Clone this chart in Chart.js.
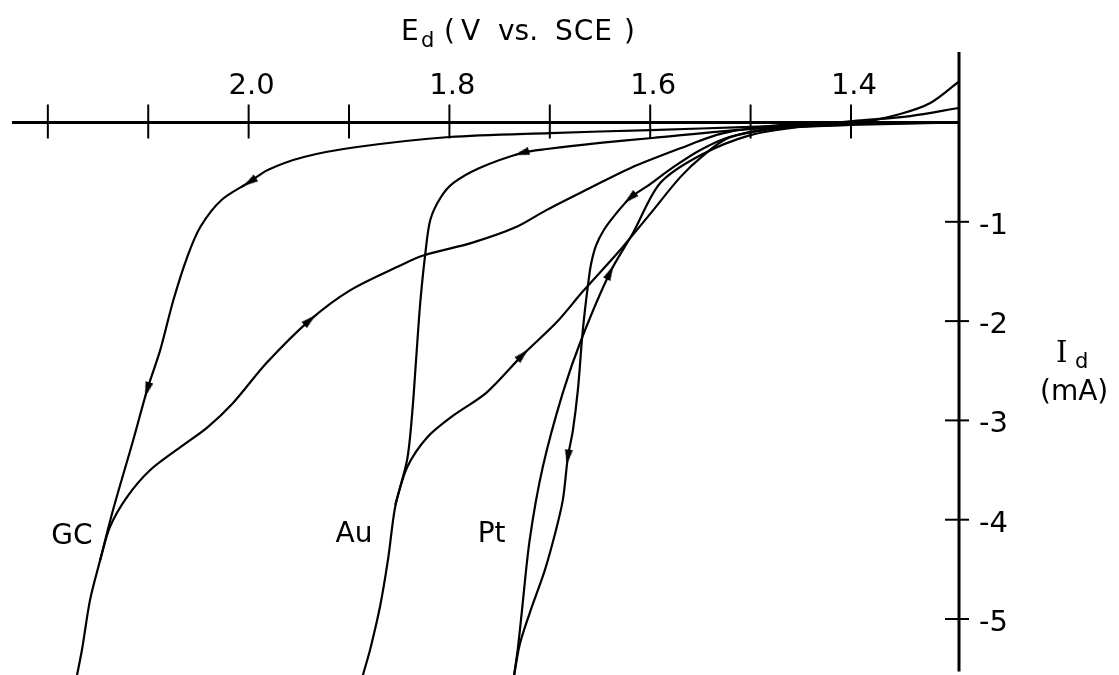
<!DOCTYPE html>
<html>
<head>
<meta charset="utf-8">
<title>Ed vs Id</title>
<script src="https://cdn.jsdelivr.net/npm/chart.js@4.4.1/dist/chart.umd.min.js"></script>
<style>
  html, body { margin: 0; padding: 0; background: #fff; }
  #wrap { width: 1119px; height: 675px; position: relative; }
</style>
</head>
<body>
<div id="wrap"><canvas id="cv" width="1119" height="675"></canvas></div>
<script>
// axis ticks (E_d in V vs. SCE, I_d in mA)
const xTicks = [2.2, 2.1, 2.0, 1.9, 1.8, 1.7, 1.6, 1.5, 1.4];
const xLabelled = [2.0, 1.8, 1.6, 1.4];
const yTicks = [-1, -2, -3, -4, -5];
const yTickLabels = ['-1', '-2', '-3', '-4', '-5'];

// glassy carbon
const gcFwdE = [1.293, 1.40, 1.50, 1.60, 1.70, 1.80, 1.892, 1.945, 1.981, 1.999, 2.027, 2.048, 2.061, 2.075, 2.088, 2.101, 2.115, 2.135, 2.148, 2.158, 2.166, 2.174];
const gcFwdI = [0, -0.015, -0.045, -0.076, -0.106, -0.146, -0.247, -0.347, -0.478, -0.599, -0.78, -1.05, -1.35, -1.79, -2.29, -2.69, -3.20, -3.90, -4.41, -4.81, -5.31, -5.72];
const gcRevE = [2.148, 2.138, 2.121, 2.098, 2.068, 2.041, 2.016, 1.982, 1.939, 1.899, 1.849, 1.826, 1.777, 1.733, 1.703, 1.66, 1.62, 1.57, 1.528, 1.471, 1.401, 1.293];
const gcRevI = [-4.41, -4.07, -3.77, -3.50, -3.27, -3.07, -2.83, -2.42, -1.99, -1.69, -1.44, -1.34, -1.21, -1.05, -0.88, -0.66, -0.46, -0.26, -0.11, -0.025, 0, 0];

// gold
const auFwdE = [1.293, 1.401, 1.502, 1.598, 1.650, 1.703, 1.728, 1.770, 1.796, 1.809, 1.819, 1.824, 1.829, 1.833, 1.837, 1.842, 1.854, 1.861, 1.869, 1.879, 1.886, 1.891];
const auFwdI = [0, -0.025, -0.066, -0.156, -0.206, -0.267, -0.307, -0.458, -0.609, -0.76, -0.98, -1.32, -1.81, -2.36, -2.92, -3.39, -3.87, -4.39, -4.87, -5.31, -5.56, -5.77];
const auRevE = [1.854, 1.842, 1.822, 1.796, 1.763, 1.727, 1.693, 1.667, 1.633, 1.600, 1.570, 1.547, 1.521, 1.471, 1.398, 1.341, 1.293];
const auRevI = [-3.85, -3.47, -3.17, -2.95, -2.72, -2.34, -2.01, -1.70, -1.32, -0.92, -0.55, -0.33, -0.15, -0.055, 0.015, 0.065, 0.146];

// platinum
const ptFwdE = [1.293, 1.401, 1.471, 1.521, 1.550, 1.577, 1.600, 1.620, 1.635, 1.646, 1.654, 1.659, 1.662, 1.665, 1.668, 1.672, 1.677, 1.682, 1.687, 1.695, 1.705, 1.720, 1.730, 1.737];
const ptFwdI = [0, -0.005, -0.045, -0.146, -0.277, -0.45, -0.62, -0.76, -0.93, -1.08, -1.24, -1.43, -1.64, -1.89, -2.19, -2.69, -3.10, -3.37, -3.80, -4.15, -4.51, -4.94, -5.26, -5.66];
const ptRevE = [1.737, 1.732, 1.728, 1.720, 1.707, 1.687, 1.668, 1.640, 1.617, 1.590, 1.550, 1.501, 1.451, 1.398, 1.351, 1.321, 1.293];
const ptRevI = [-5.66, -5.31, -4.94, -4.20, -3.47, -2.72, -2.17, -1.51, -1.11, -0.61, -0.33, -0.13, -0.045, -0.015, 0.086, 0.196, 0.408];

// electrode labels: name, E, I where the text sits
const electrodeNames = ['GC', 'Au', 'Pt'];
const electrodeLabelE = [2.176, 1.895, 1.758];
const electrodeLabelI = [-4.17, -4.15, -4.15];

function pts(es, is) {
    return es.map((e, k) => ({ x: e, y: is[k] }));
}

// narrow arrow head used as point style
const arrowImg = document.createElement('canvas');
arrowImg.width = 8;
arrowImg.height = 15;
const ac = arrowImg.getContext('2d');
ac.fillStyle = '#000';
ac.beginPath();
ac.moveTo(4, 0);
ac.lineTo(8, 15);
ac.lineTo(0, 15);
ac.closePath();
ac.fill();

function curve(label, es, is, arrows) {
    return {
        label: label,
        data: pts(es, is),
        showLine: true,
        borderColor: '#000',
        borderWidth: 2.2,
        tension: 0.3,
        fill: false,
        pointStyle: arrowImg,
        pointBorderWidth: 0,
        pointBackgroundColor: '#000',
        pointRadius: ctx => arrows.includes(ctx.dataIndex) ? 4 : 0,
        pointRotation: ctx => {
            const d = ctx.dataset.data;
            const k = ctx.dataIndex;
            const a = d[k - 1], b = d[k + 1];
            if (!a || !b) return 0;
            const sx = ctx.chart.scales.x, sy = ctx.chart.scales.y;
            const dx = sx.getPixelForValue(b.x) - sx.getPixelForValue(a.x);
            const dy = sy.getPixelForValue(b.y) - sy.getPixelForValue(a.y);
            return Math.atan2(dx, -dy) * 180 / Math.PI;
        }
    };
}

const axesAndText = {
    id: 'axesAndText',
    afterDatasetsDraw(chart) {
        const { ctx, chartArea, scales: { x, y } } = chart;
        const y0 = y.getPixelForValue(0);
        const xr = chartArea.right;
        ctx.save();
        ctx.strokeStyle = '#000';
        ctx.fillStyle = '#000';

        // horizontal (E) axis through I = 0
        ctx.lineWidth = 3;
        ctx.beginPath();
        ctx.moveTo(chartArea.left, y0);
        ctx.lineTo(xr, y0);
        ctx.stroke();
        // vertical (I) axis at the right edge
        ctx.beginPath();
        ctx.moveTo(xr, chartArea.top);
        ctx.lineTo(xr, y.getPixelForValue(-5.53));
        ctx.stroke();

        ctx.lineWidth = 2;
        xTicks.forEach(v => {
            const px = x.getPixelForValue(v);
            ctx.beginPath();
            ctx.moveTo(px, y0 - 18);
            ctx.lineTo(px, y0 + 16);
            ctx.stroke();
        });
        yTicks.forEach(v => {
            const py = y.getPixelForValue(v);
            ctx.beginPath();
            ctx.moveTo(xr - 14, py);
            ctx.lineTo(xr + 10, py);
            ctx.stroke();
        });

        ctx.font = '29px "DejaVu Sans"';
        ctx.textBaseline = 'alphabetic';
        ctx.textAlign = 'center';
        xLabelled.forEach(v => {
            ctx.fillText(v.toFixed(1), x.getPixelForValue(v) + 3, y0 - 29);
        });
        ctx.textAlign = 'left';
        yTicks.forEach((v, k) => {
            ctx.fillText(yTickLabels[k], xr + 20, y.getPixelForValue(v) + 12);
        });

        // electrode names
        ctx.font = '28px "DejaVu Sans"';
        ctx.textAlign = 'center';
        ctx.textBaseline = 'middle';
        electrodeNames.forEach((n, k) => {
            ctx.fillText(n, x.getPixelForValue(electrodeLabelE[k]), y.getPixelForValue(electrodeLabelI[k]));
        });

        // axis titles
        ctx.textAlign = 'left';
        ctx.textBaseline = 'alphabetic';
        ctx.font = '28px "DejaVu Sans"';
        ctx.fillText('E', 401, 40);
        ctx.font = '21px "DejaVu Sans"';
        ctx.fillText('d', 421, 47);
        ctx.font = '28px "DejaVu Sans"';
        ctx.fillText('(', 444, 40);
        ctx.fillText('V', 461, 40);
        ctx.fillText('vs.', 498, 40);
        ctx.letterSpacing = '1px';
        ctx.fillText('SCE', 555, 40);
        ctx.letterSpacing = '0px';
        ctx.fillText(')', 624, 40);

        ctx.font = '29px "DejaVu Serif"';
        ctx.fillText('I', 1056, 362);
        ctx.font = '21px "DejaVu Sans"';
        ctx.fillText('d', 1075, 368);
        ctx.font = '28px "DejaVu Sans"';
        ctx.fillText('(mA)', 1040, 400);
        ctx.restore();
    }
};

new Chart(document.getElementById('cv'), {
    type: 'scatter',
    data: {
        datasets: [
            curve('GC forward', gcFwdE, gcFwdI, [9, 15]),
            curve('GC reverse', gcRevE, gcRevI, [8]),
            curve('Au forward', auFwdE, auFwdI, [6]),
            curve('Au reverse', auRevE, auRevI, [5]),
            curve('Pt forward', ptFwdE, ptFwdI, [7, 17]),
            curve('Pt reverse', ptRevE, ptRevI, [7])
        ]
    },
    options: {
        responsive: false,
        animation: false,
        events: [],
        layout: { padding: { left: 12, right: 160, top: 52, bottom: 0 } },
        plugins: { legend: { display: false }, tooltip: { enabled: false } },
        scales: {
            x: { type: 'linear', reverse: true, min: 1.2924, max: 2.2357, display: false },
            y: { type: 'linear', min: -5.564, max: 0.71, display: false }
        }
    },
    plugins: [axesAndText]
});
</script>
</body>
</html>
